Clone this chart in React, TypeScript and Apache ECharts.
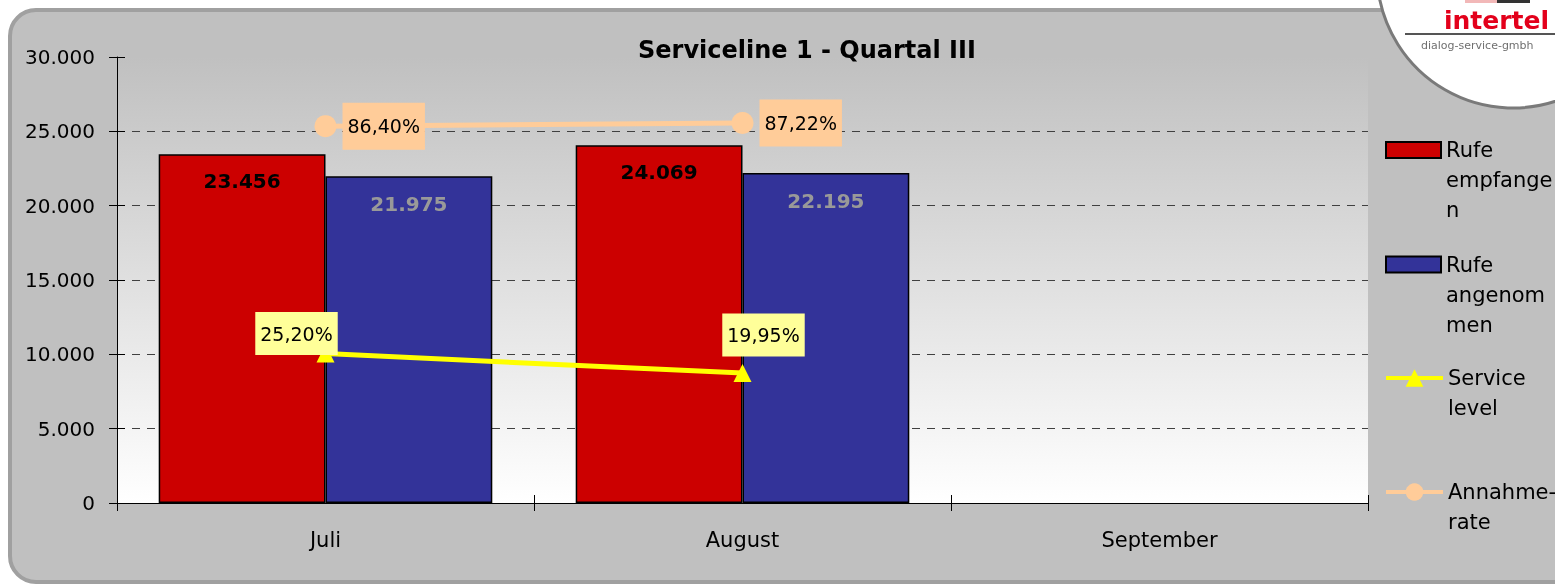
import React, { useEffect, useRef } from 'react';
import * as echarts from 'echarts';

const categories = ['Juli', 'August', 'September'];
const rufeEmpfangen = [23456, 24069, null];
const rufeAngenommen = [21975, 22195, null];
const serviceLevel = [25.2, 19.95, null];
const annahmeRate = [86.4, 87.22, null];
const seriesNames = ['Rufe empfangen', 'Rufe angenommen', 'Service level', 'Annahme-rate'];
const legendLabels = ['Rufe\nempfange\nn', 'Rufe\nangenom\nmen', 'Service\nlevel', 'Annahme-\nrate'];
const chartTitle = 'Serviceline 1 - Quartal III';
const logoName = 'intertel';
const logoSub = 'dialog-service-gmbh';

const FONT = '"DejaVu Sans", sans-serif';

const fmtThousands = (v: number) => String(v).replace(/\B(?=(\d{3})+(?!\d))/g, '.');
const fmtPct = (v: number) => v.toFixed(2).replace('.', ',') + '%';

const slLabelOffsets = [[-29, -20], [21, -38], [0, 0]];

export default function App() {
  const ref = useRef<HTMLDivElement>(null);
  useEffect(() => {
    if (!ref.current) return;
    const chart = echarts.init(ref.current, null, { renderer: 'svg' });

    const legendFor = (i: number, left: number, top: number, w: number, h: number, icon?: string) => ({
      orient: 'vertical',
      left,
      top,
      padding: 0,
      itemWidth: w,
      itemHeight: h,
      itemGap: 0,
      data: [icon ? { name: seriesNames[i], icon } : { name: seriesNames[i] }],
      formatter: () => {
        const lines = legendLabels[i].split('\n').length;
        return '\n'.repeat(lines - 1) + legendLabels[i];
      },
      textStyle: { fontFamily: FONT, fontSize: 21, color: '#000', lineHeight: 30 },
      lineStyle: { width: 4 },
      selectedMode: false,
    });

    const option: any = {
      animation: false,
      backgroundColor: 'transparent',
      title: {
        text: chartTitle,
        left: 638,
        top: 38,
        padding: 0,
        textStyle: { fontFamily: FONT, fontSize: 24, fontWeight: 'bold', color: '#000' },
      },
      legend: [
        legendFor(0, 1385, 75, 55, 16, 'rect'),
        legendFor(1, 1385, 189.5, 55, 16, 'rect'),
        legendFor(2, 1384, 333, 57, 22),
        legendFor(3, 1384, 447, 57, 22),
      ],
      grid: {
        left: 117,
        right: 1555 - 1368,
        top: 57,
        bottom: 587 - 503,
        show: true,
        borderWidth: 0,
        backgroundColor: new echarts.graphic.LinearGradient(0, 0, 0, 1, [
          { offset: 0, color: '#c0c0c0' },
          { offset: 1, color: '#ffffff' },
        ]),
      },
      xAxis: [
        {
          type: 'category',
          data: categories,
          position: 'bottom',
          axisLine: { show: true, onZero: false, lineStyle: { color: '#000', width: 1 } },
          axisTick: { show: true, length: 8, lineStyle: { color: '#000' } },
          axisLabel: { fontFamily: FONT, fontSize: 21, color: '#000', margin: 26 },
          splitLine: { show: false },
        },
        {
          type: 'category',
          data: categories,
          position: 'bottom',
          axisLine: { show: false, onZero: false },
          axisTick: { show: true, inside: true, length: 8, lineStyle: { color: '#000' } },
          axisLabel: { show: false },
          splitLine: { show: false },
        },
      ],
      yAxis: [
        {
          type: 'value',
          min: 0,
          max: 30000,
          interval: 5000,
          position: 'left',
          axisLine: { show: true, onZero: false, lineStyle: { color: '#000', width: 1 } },
          axisTick: { show: true, length: 8, lineStyle: { color: '#000' } },
          axisLabel: {
            fontFamily: FONT,
            fontSize: 20,
            color: '#000',
            margin: 22,
            formatter: (v: number) => fmtThousands(v),
          },
          splitLine: {
            show: true,
            lineStyle: {
              color: ['transparent', '#404040', '#404040', '#404040', '#404040', '#404040', 'transparent'],
              type: [8, 7],
              width: 1,
            },
          },
        },
        {
          type: 'value',
          min: -15,
          max: 105,
          position: 'right',
          show: false,
          axisLine: { onZero: false },
          splitLine: { show: false },
        },
        {
          type: 'value',
          min: 0,
          max: 30000,
          interval: 5000,
          position: 'left',
          axisLine: { show: false, onZero: false },
          axisTick: { show: true, inside: true, length: 8, lineStyle: { color: '#000' } },
          axisLabel: { show: false },
          splitLine: { show: false },
        },
      ],
      series: [
        {
          name: seriesNames[0],
          type: 'bar',
          data: rufeEmpfangen,
          barGap: '0%',
          barCategoryGap: '20%',
          itemStyle: { color: '#cc0000', borderColor: '#000', borderWidth: 1.5 },
          label: {
            show: true,
            position: 'insideTop',
            distance: 17,
            fontFamily: FONT,
            fontSize: 20,
            fontWeight: 'bold',
            color: '#000',
            formatter: (p: any) => fmtThousands(p.value),
          },
        },
        {
          name: seriesNames[1],
          type: 'bar',
          data: rufeAngenommen,
          barGap: '0%',
          barCategoryGap: '20%',
          itemStyle: { color: '#333399', borderColor: '#000', borderWidth: 1.5 },
          label: {
            show: true,
            position: 'insideTop',
            distance: 18,
            fontFamily: FONT,
            fontSize: 20,
            fontWeight: 'bold',
            color: '#999999',
            formatter: (p: any) => fmtThousands(p.value),
          },
        },
        {
          name: seriesNames[2],
          type: 'line',
          yAxisIndex: 1,
          data: serviceLevel.map((v, i) => ({
            value: v,
            label: { offset: slLabelOffsets[i] },
          })),
          symbol: 'triangle',
          symbolSize: 18,
          lineStyle: { color: '#ffff00', width: 5 },
          itemStyle: { color: '#ffff00' },
          label: {
            show: true,
            position: 'inside',
            fontFamily: FONT,
            fontSize: 19,
            color: '#000',
            backgroundColor: '#ffff99',
            padding: [12, 5],
            formatter: (p: any) => (p.value == null ? '' : fmtPct(p.value)),
          },
          z: 3,
        },
        {
          name: seriesNames[3],
          type: 'line',
          yAxisIndex: 1,
          data: annahmeRate,
          symbol: 'circle',
          symbolSize: 22,
          lineStyle: { color: '#ffcc99', width: 5 },
          itemStyle: { color: '#ffcc99' },
          label: {
            show: true,
            position: 'right',
            distance: 6,
            fontFamily: FONT,
            fontSize: 19,
            color: '#000',
            backgroundColor: '#ffcc99',
            padding: [14, 5],
            formatter: (p: any) => (p.value == null ? '' : fmtPct(p.value)),
          },
          z: 3,
        },
      ],
      graphic: [
        {
          type: 'rect',
          z: -10,
          silent: true,
          shape: { x: 10, y: 10, width: 1600, height: 572, r: 26 },
          style: { fill: '#c0c0c0', stroke: '#a0a0a0', lineWidth: 4 },
        },
        {
          type: 'circle',
          z: 100,
          silent: true,
          shape: { cx: 1513, cy: -28, r: 136 },
          style: { fill: '#ffffff', stroke: '#7a7a7a', lineWidth: 3 },
        },
        {
          type: 'rect',
          z: 101,
          silent: true,
          shape: { x: 1465, y: 0, width: 32, height: 3 },
          style: { fill: '#f2b8b8' },
        },
        {
          type: 'rect',
          z: 101,
          silent: true,
          shape: { x: 1497, y: 0, width: 33, height: 3 },
          style: { fill: '#333333' },
        },
        {
          type: 'text',
          z: 101,
          silent: true,
          x: 1444,
          y: 20,
          style: {
            text: logoName,
            fontFamily: FONT,
            fontSize: 25,
            fontWeight: 'bold',
            fill: '#e3001b',
            textAlign: 'left',
            textVerticalAlign: 'middle',
          },
        },
        {
          type: 'line',
          z: 101,
          silent: true,
          shape: { x1: 1405, y1: 34, x2: 1560, y2: 34 },
          style: { stroke: '#555555', lineWidth: 2 },
        },
        {
          type: 'text',
          z: 101,
          silent: true,
          x: 1421,
          y: 45,
          style: {
            text: logoSub,
            fontFamily: FONT,
            fontSize: 11,
            fill: '#707070',
            textAlign: 'left',
            textVerticalAlign: 'middle',
          },
        },
      ],
    };

    chart.setOption(option);
    return () => chart.dispose();
  }, []);

  return (
    <div
      ref={ref}
      style={{ position: 'fixed', left: 0, top: 0, width: 1555, height: 587 }}
    />
  );
}
